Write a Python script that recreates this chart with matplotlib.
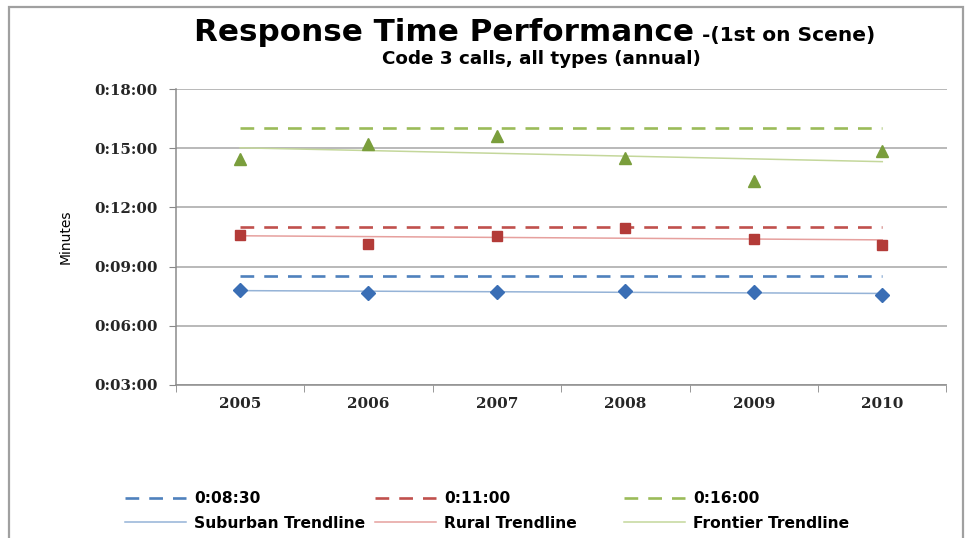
import numpy as np
import matplotlib
matplotlib.use('Agg')
import matplotlib.pyplot as plt
from matplotlib.patches import Rectangle
from matplotlib.ticker import FuncFormatter

# ── data (seconds) ───────────────────────────────────────────────
years = ['2005', '2006', '2007', '2008', '2009', '2010']
suburban = [470, 459, 462, 467, 464, 454]
rural = [637, 608, 634, 657, 623, 606]
frontier = [868, 914, 938, 870, 800, 891]
targets = [510, 660, 960]
target_labels = ['0:08:30', '0:11:00', '0:16:00']
trend_labels = ['Suburban Trendline', 'Rural Trendline', 'Frontier Trendline']
yticks = [180, 360, 540, 720, 900, 1080]

MARK = ['#3A6EB5', '#B33B38', '#7A9E3C']
DASH = ['#4F81BD', '#C0504D', '#9BBB59']
TREND = ['#95B3D7', '#E6A09E', '#C4D79B']
MARKERS = ['D', 's', '^']
MSIZE = [7, 7, 8.5]
GRID = '#A6A6A6'
TXT = '#262626'
SANS = 'DejaVu Sans'

fig = plt.figure(figsize=(9.65, 5.38), dpi=100)
ax = fig.add_axes([175.8/965, 1-385/538, 770.7/965, 296/538])

x = np.arange(len(years))
handles_d, handles_t = [], []
for i, series in enumerate([suburban, rural, frontier]):
    d, = ax.plot(x, [targets[i]]*len(x), color=DASH[i], lw=1.9, dashes=(5.2, 3.8),
                 zorder=3, label=target_labels[i])
    k, b = np.polyfit(x, series, 1)
    t, = ax.plot(x, k*x+b, color=TREND[i], lw=1.1, zorder=2, label=trend_labels[i])
    ax.plot(x, series, ls='none', marker=MARKERS[i], ms=MSIZE[i], color=MARK[i],
            mec=MARK[i], zorder=4)
    handles_d.append(d); handles_t.append(t)

ax.set_xlim(-0.5, len(years)-0.5)
ax.set_ylim(yticks[0], yticks[-1])
ax.set_yticks(yticks)
ax.yaxis.set_major_formatter(FuncFormatter(lambda v, p: f'0:{int(v)//60:02d}:{int(v)%60:02d}'))
ax.set_xticks(x)
ax.set_xticklabels(years)
ax.set_xticks(np.arange(-0.5, len(years)), minor=True)
ax.tick_params(axis='x', which='major', length=0, pad=9)
ax.tick_params(axis='x', which='minor', length=5, color='#888888', direction='out')
ax.tick_params(axis='y', length=5, color='#888888', pad=8)
for lab in ax.get_yticklabels():
    lab.set_fontfamily('DejaVu Serif'); lab.set_fontweight('bold')
    lab.set_fontsize(10.8); lab.set_color(TXT)
for lab in ax.get_xticklabels():
    lab.set_fontfamily('DejaVu Serif'); lab.set_fontweight('bold')
    lab.set_fontsize(11); lab.set_color(TXT)
ax.grid(axis='y', color=GRID, lw=1.1)
ax.set_axisbelow(True)
for s in ['top', 'right']:
    ax.spines[s].set_visible(False)
for s in ['left', 'bottom']:
    ax.spines[s].set_color('#8C8C8C'); ax.spines[s].set_linewidth(1.1)

ax.set_ylabel('Minutes', fontsize=10, family=SANS, color='black', labelpad=0)
ax.yaxis.set_label_coords(-0.134, 0.5)

# titles
fig.text(194/965, 1-41/538, 'Response Time Performance', family=SANS,
         fontweight='bold', fontsize=22.3, va='baseline', ha='left', color='black')
fig.text(702/965, 1-41/538, '-(1st on Scene)', family=SANS,
         fontweight='bold', fontsize=14.5, va='baseline', ha='left', color='black')
fig.text(541/965, 1-59/538, 'Code 3 calls, all types (annual)', family=SANS,
         fontweight='bold', fontsize=13.2, va='center', ha='center', color='black')

# legends, one per column
for i, xl in enumerate([125, 375, 624]):
    fig.legend([handles_d[i], handles_t[i]], [target_labels[i], trend_labels[i]],
               loc='upper left', bbox_to_anchor=(xl/965, 1-491/538), frameon=False,
               borderpad=0, borderaxespad=0, handlelength=3.95, handletextpad=0.5,
               labelspacing=0.62, prop={'family': SANS, 'weight': 'bold', 'size': 11.2})

# outer frame
fig.patches.append(Rectangle((9/965, -0.1), 954/965, 1.1-7/538, transform=fig.transFigure,
                             fill=False, edgecolor='#A0A0A0', lw=1.6, zorder=0))

fig.savefig('out.png', dpi=100)
